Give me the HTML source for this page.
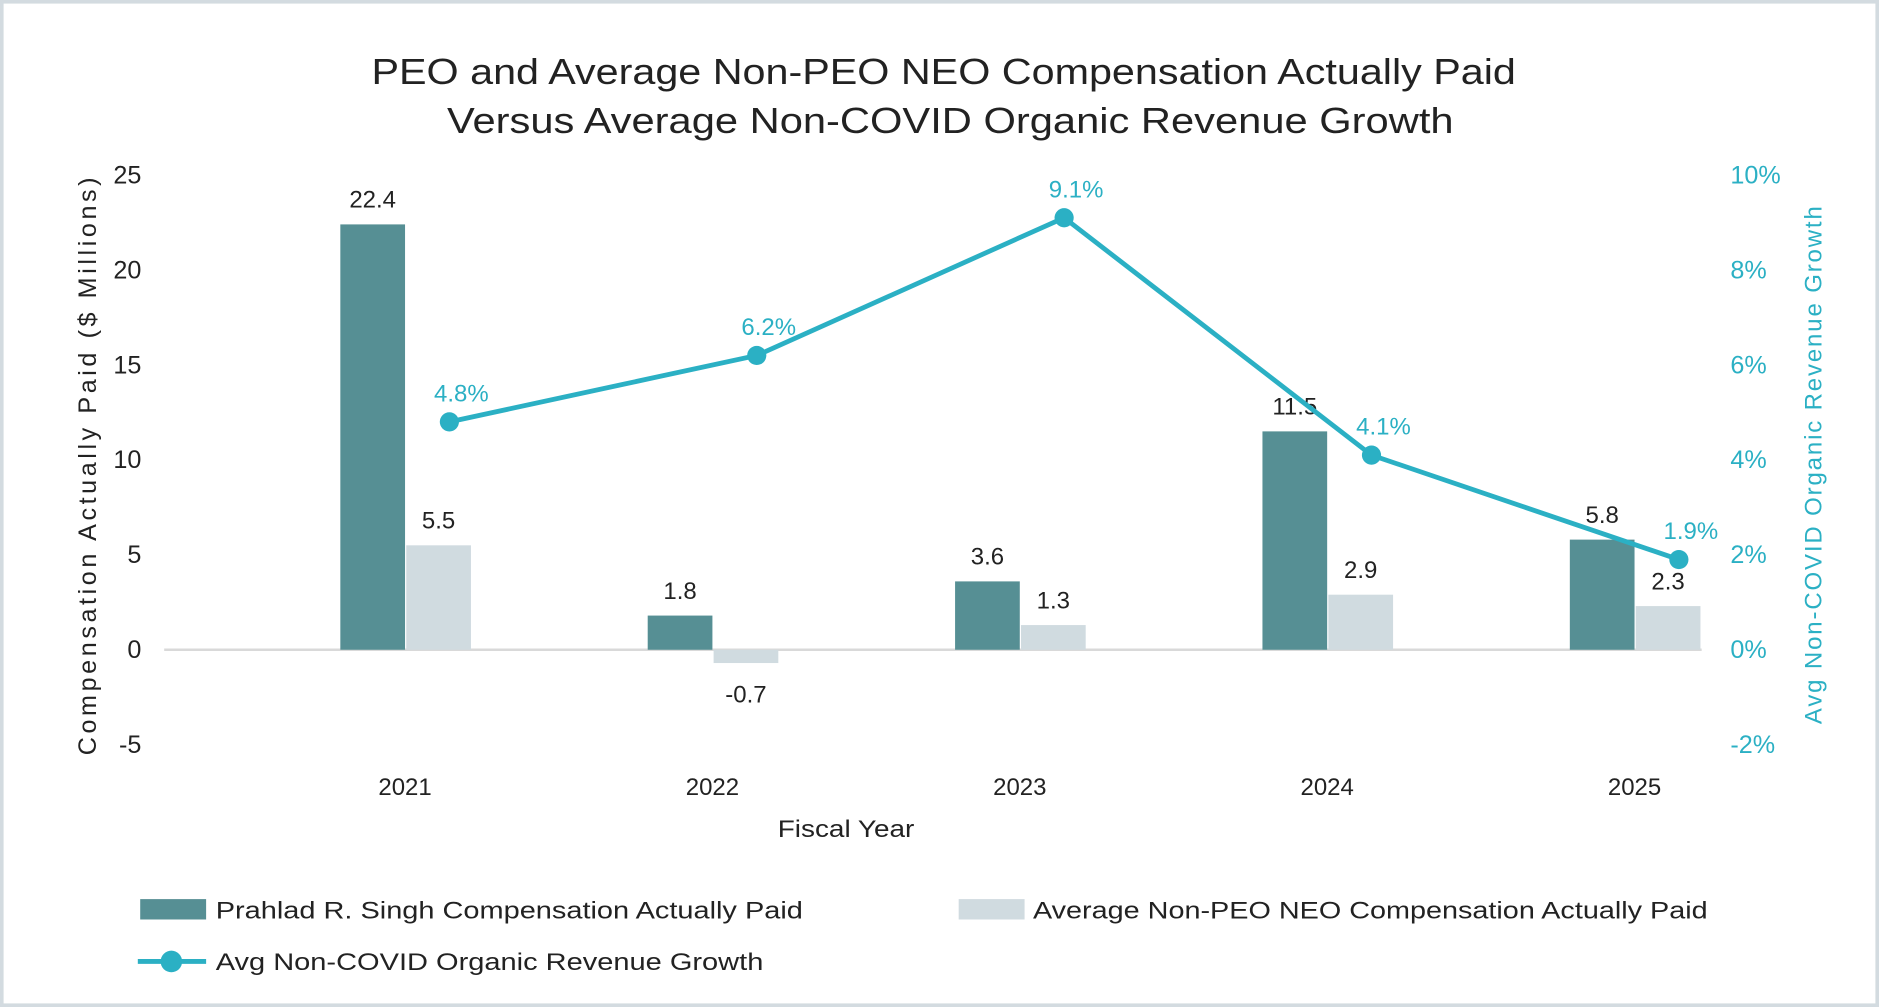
<!DOCTYPE html>
<html><head><meta charset="utf-8"><style>
html,body{margin:0;padding:0;background:#fff}
svg{display:block}
text{font-family:"Liberation Sans",sans-serif}
</style></head><body>
<svg id="chart" width="1879" height="1007" viewBox="0 0 1568 840" preserveAspectRatio="none">
<rect x="1.5" y="1.5" width="1565" height="837" fill="#fff" stroke="#d3dbe0" stroke-width="3"/>
<text x="310" y="70" textLength="955" lengthAdjust="spacingAndGlyphs" font-size="30" fill="#222">PEO and Average Non-PEO NEO Compensation Actually Paid</text>
<text x="373" y="111" textLength="840" lengthAdjust="spacingAndGlyphs" font-size="30" fill="#222">Versus Average Non-COVID Organic Revenue Growth</text>
<g id="axes"></g>
<g id="marks"></g>
<text transform="translate(80,630) rotate(-90)" textLength="482" lengthAdjust="spacing" font-size="21" fill="#222">Compensation Actually Paid ($ Millions)</text>
<text transform="translate(1520,604) rotate(-90)" textLength="432" lengthAdjust="spacing" font-size="20" fill="#2bb0c4">Avg Non-COVID Organic Revenue Growth</text>
<text x="649" y="698" textLength="114" lengthAdjust="spacingAndGlyphs" font-size="20" fill="#222">Fiscal Year</text>
<g>
<rect x="117" y="750" width="55" height="17" fill="#568f94"/>
<text x="180" y="766" textLength="490" lengthAdjust="spacingAndGlyphs" font-size="20" fill="#222">Prahlad R. Singh Compensation Actually Paid</text>
<rect x="800" y="750" width="55" height="17" fill="#d0dbe0"/>
<text x="862" y="766" textLength="563" lengthAdjust="spacingAndGlyphs" font-size="20" fill="#222">Average Non-PEO NEO Compensation Actually Paid</text>
<line x1="115" y1="802" x2="172" y2="802" stroke="#2bb0c4" stroke-width="4"/>
<circle cx="143" cy="802" r="9" fill="#2bb0c4"/>
<text x="180" y="809" textLength="457" lengthAdjust="spacingAndGlyphs" font-size="20" fill="#222">Avg Non-COVID Organic Revenue Growth</text>
</g>
</svg>
<script>
const years=["2021","2022","2023","2024","2025"];
const peo=[22.4,1.8,3.6,11.5,5.8];
const neo=[5.5,-0.7,1.3,2.9,2.3];
const growth=[4.8,6.2,9.1,4.1,1.9];
const leftTicks=[25,20,15,10,5,0,-5];
const rightTicks=[10,8,6,4,2,0,-2];
const NS="http://www.w3.org/2000/svg";
const y=v=>542-v*15.84;
const y2=v=>542-v*39.6;
const xc=i=>338+i*256.5;
const axes=document.getElementById('axes'),marks=document.getElementById('marks');
function mk(tag,attrs,parent,txt){const e=document.createElementNS(NS,tag);for(const k in attrs)e.setAttribute(k,attrs[k]);if(txt!==undefined)e.textContent=txt;parent.appendChild(e);return e;}
leftTicks.forEach(t=>{const e=mk('text',{x:118,y:y(t)+7,'text-anchor':'end','font-size':21,fill:'#222'},axes,String(t));

});
rightTicks.forEach(t=>{const e=mk('text',{x:1444,y:y2(t)+7,'font-size':21,fill:'#2bb0c4'},axes,t+'%');

});
years.forEach((yr,i)=>{const e=mk('text',{x:xc(i),y:663,'text-anchor':'middle','font-size':20,fill:'#222'},axes,yr);

});
const base=mk('line',{x1:137,x2:1420,y1:y(0),y2:y(0),stroke:'#d9d9d9','stroke-width':2},axes);


years.forEach((yr,i)=>{
 const v=peo[i];
 const b=mk('rect',{x:xc(i)-54,y:Math.min(y(v),y(0)),width:54,height:Math.abs(y(v)-y(0)),fill:'#568f94'},marks);
 
 
 const l=mk('text',{x:xc(i)-27,y:y(v)-14,'text-anchor':'middle','font-size':20,fill:'#222'},marks,v.toFixed(1));
 
 
 const w=neo[i];
 const c=mk('rect',{x:xc(i)+1,y:Math.min(y(w),y(0)),width:54,height:Math.abs(y(w)-y(0)),fill:'#d0dbe0'},marks);
 
 
 const ly=w>=0?y(w)-14:y(w)+33;
 const m=mk('text',{x:xc(i)+28,y:ly,'text-anchor':'middle','font-size':20,fill:'#222'},marks,w.toFixed(1));
 
 
});
const pts=growth.map((g,i)=>(xc(i)+37)+','+y2(g)).join(' ');
const pl=mk('polyline',{points:pts,fill:'none',stroke:'#2bb0c4','stroke-width':4},marks);


growth.forEach((g,i)=>{
 const c=mk('circle',{cx:xc(i)+37,cy:y2(g),r:8,fill:'#2bb0c4'},marks);
 
 
 const t=mk('text',{x:xc(i)+47,y:y2(g)-17,'text-anchor':'middle','font-size':20,fill:'#2bb0c4'},marks,g.toFixed(1)+'%');
 
 
});
</script>
</body></html>
